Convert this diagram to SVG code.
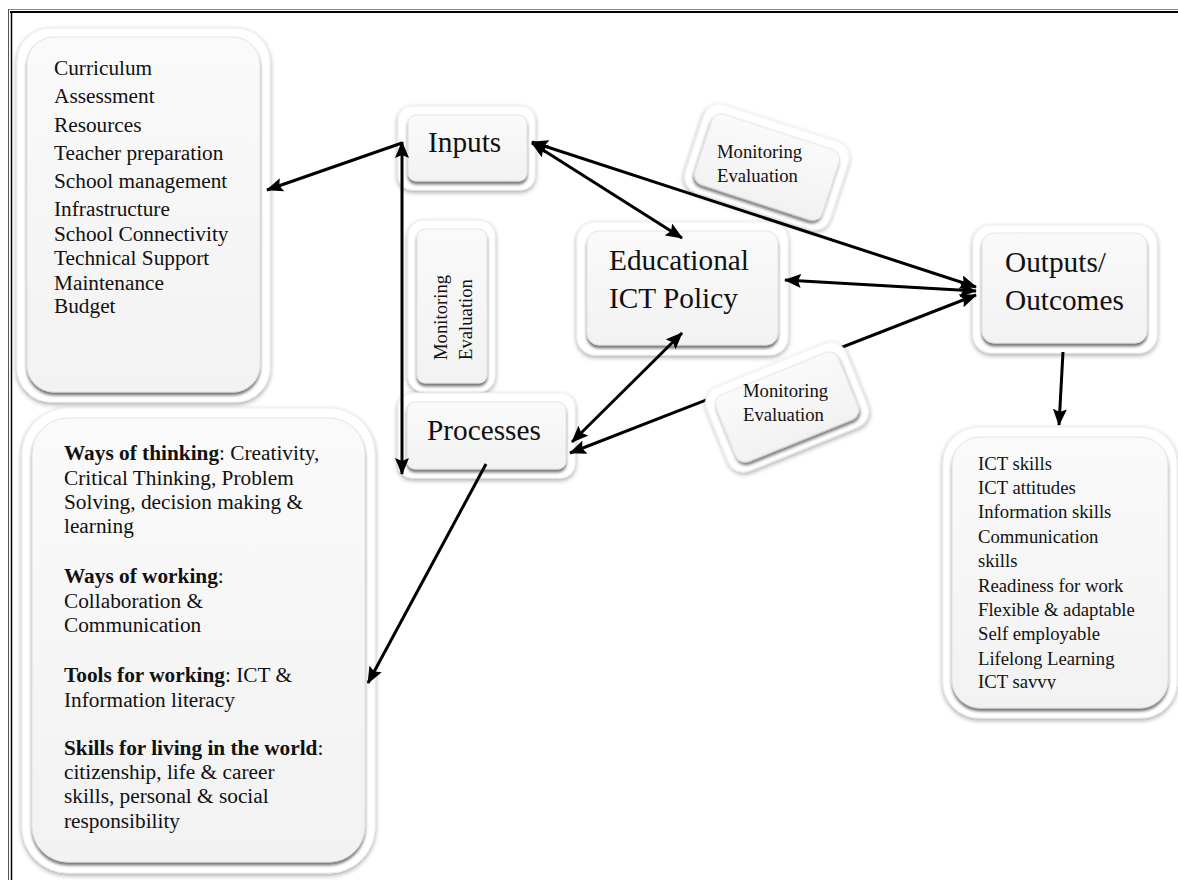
<svg xmlns="http://www.w3.org/2000/svg" width="1178" height="880" viewBox="0 0 1178 880">
<style>
  text { font-family: "Liberation Serif", "Times New Roman", serif; fill: #111; }
  .big { font-size: 29.3px; }
  .mid { font-size: 21.3px; }
  .sm { font-size: 18.7px; }
  .b { font-weight: bold; }
  .outer { fill: #ffffff; stroke: #eeeeee; stroke-width: 1; filter: url(#sh); }
  .inner { fill: url(#ig); stroke: #dddddd; stroke-width: 0.8; filter: url(#ish); }
  .con { stroke: #000; stroke-width: 3; fill: none; }
</style>
<defs>
  <linearGradient id="ig" x1="0" y1="0" x2="0" y2="1">
    <stop offset="0" stop-color="#fafafa"/>
    <stop offset="1" stop-color="#f2f2f2"/>
  </linearGradient>
  <filter id="sh" x="-15%" y="-15%" width="130%" height="135%">
    <feGaussianBlur in="SourceAlpha" stdDeviation="2.5"/>
    <feOffset dx="0" dy="2"/>
    <feComponentTransfer><feFuncA type="linear" slope="0.35"/></feComponentTransfer>
    <feMerge><feMergeNode/><feMergeNode in="SourceGraphic"/></feMerge>
  </filter>
  <filter id="ish" x="-15%" y="-15%" width="130%" height="135%">
    <feGaussianBlur in="SourceAlpha" stdDeviation="1.5"/>
    <feOffset dx="0" dy="3"/>
    <feComponentTransfer><feFuncA type="linear" slope="0.55"/></feComponentTransfer>
    <feMerge><feMergeNode/><feMergeNode in="SourceGraphic"/></feMerge>
  </filter>
  <marker id="ah" markerUnits="userSpaceOnUse" markerWidth="18" markerHeight="14" refX="16" refY="7" orient="auto-start-reverse">
    <path d="M0,0 L17,7 L0,14 L3,7 z" fill="#000"/>
  </marker>
  <clipPath id="savvyClip"><rect x="940" y="670" width="240" height="19.5"/></clipPath>
</defs>

<rect x="0" y="0" width="1178" height="880" fill="#ffffff"/>

<!-- page border -->
<g id="border">
  <line x1="8" y1="9.5" x2="1178" y2="9.5" stroke="#888" stroke-width="1"/>
  <line x1="10" y1="12" x2="1178" y2="12" stroke="#000" stroke-width="2"/>
  <line x1="8.5" y1="9" x2="8.5" y2="880" stroke="#555" stroke-width="1"/>
  <line x1="11.5" y1="12" x2="11.5" y2="880" stroke="#000" stroke-width="1.5"/>
</g>

<!-- Inputs list -->
<g id="inputs-list">
  <rect class="outer" x="17" y="28" width="253" height="374" rx="34"/>
  <rect class="inner" x="27" y="37" width="233" height="355" rx="27"/>
  <text class="mid" x="54" y="75">Curriculum</text>
  <text class="mid" x="54" y="103">Assessment</text>
  <text class="mid" x="54" y="132">Resources</text>
  <text class="mid" x="54" y="160">Teacher preparation</text>
  <text class="mid" x="54" y="188">School management</text>
  <text class="mid" x="54" y="216">Infrastructure</text>
  <text class="mid" x="54" y="241">School Connectivity</text>
  <text class="mid" x="54" y="265">Technical Support</text>
  <text class="mid" x="54" y="290">Maintenance</text>
  <text class="mid" x="54" y="313">Budget</text>
</g>

<!-- Processes list -->
<g id="processes-list">
  <rect class="outer" x="22" y="408" width="353" height="465" rx="46"/>
  <rect class="inner" x="32" y="418" width="333" height="444" rx="36"/>
  <text class="mid" x="64" y="460"><tspan class="b">Ways of thinking</tspan>: Creativity,</text>
  <text class="mid" x="64" y="485">Critical Thinking, Problem</text>
  <text class="mid" x="64" y="509">Solving, decision making &amp;</text>
  <text class="mid" x="64" y="533">learning</text>
  <text class="mid" x="64" y="583"><tspan class="b">Ways of working</tspan>:</text>
  <text class="mid" x="64" y="608">Collaboration &amp;</text>
  <text class="mid" x="64" y="632">Communication</text>
  <text class="mid" x="64" y="682"><tspan class="b">Tools for working</tspan>: ICT &amp;</text>
  <text class="mid" x="64" y="707">Information literacy</text>
  <text class="mid" x="64" y="755"><tspan class="b">Skills for living in the world</tspan>:</text>
  <text class="mid" x="64" y="779">citizenship, life &amp; career</text>
  <text class="mid" x="64" y="803">skills, personal &amp; social</text>
  <text class="mid" x="64" y="828">responsibility</text>
</g>

<!-- Inputs -->
<g id="inputs">
  <rect class="outer" x="398" y="106" width="137" height="84" rx="14"/>
  <rect class="inner" x="408" y="115" width="119" height="66" rx="8"/>
  <text class="big" x="428" y="152">Inputs</text>
</g>

<!-- Monitoring vertical -->
<g id="monitoring-left">
  <rect class="outer" x="408" y="220" width="87" height="172" rx="16"/>
  <rect class="inner" x="417" y="229" width="70" height="154" rx="8"/>
  <text class="sm" transform="translate(447,360) rotate(-90)">Monitoring</text>
  <text class="sm" transform="translate(472,360) rotate(-90)">Evaluation</text>
</g>

<!-- Educational ICT Policy -->
<g id="policy">
  <rect class="outer" x="577" y="222" width="211" height="133" rx="18"/>
  <rect class="inner" x="587" y="231" width="191" height="114" rx="12"/>
  <text class="big" x="609" y="270">Educational</text>
  <text class="big" x="609" y="308">ICT Policy</text>
</g>

<!-- Processes -->
<g id="processes">
  <rect class="outer" x="398" y="393" width="177" height="85" rx="14"/>
  <rect class="inner" x="407" y="402" width="159" height="67" rx="8"/>
  <text class="big" x="427" y="440">Processes</text>
</g>

<!-- Outputs -->
<g id="outputs">
  <rect class="outer" x="973" y="225" width="184" height="128" rx="18"/>
  <rect class="inner" x="982" y="233" width="165" height="110" rx="12"/>
  <text class="big" x="1005" y="272">Outputs/</text>
  <text class="big" x="1005" y="310">Outcomes</text>
</g>

<!-- Outputs list -->
<g id="outputs-list">
  <rect class="outer" x="943" y="427" width="234" height="291" rx="36"/>
  <rect class="inner" x="952" y="437" width="216" height="271" rx="28"/>
  <text class="sm" x="978" y="470">ICT skills</text>
  <text class="sm" x="978" y="494">ICT attitudes</text>
  <text class="sm" x="978" y="518">Information skills</text>
  <text class="sm" x="978" y="543">Communication</text>
  <text class="sm" x="978" y="567">skills</text>
  <text class="sm" x="978" y="592">Readiness for work</text>
  <text class="sm" x="978" y="616">Flexible &amp; adaptable</text>
  <text class="sm" x="978" y="640">Self employable</text>
  <text class="sm" x="978" y="665">Lifelong Learning</text>
  <text class="sm" x="978" y="688" clip-path="url(#savvyClip)">ICT savvy</text>
</g>

<!-- connectors -->
<g id="connectors">
  <line class="con" x1="402" y1="143" x2="267" y2="190" marker-end="url(#ah)"/>
  <line class="con" x1="402" y1="142" x2="402" y2="474" marker-start="url(#ah)" marker-end="url(#ah)"/>
  <line class="con" x1="532" y1="143" x2="682" y2="238" marker-start="url(#ah)" marker-end="url(#ah)"/>
  <line class="con" x1="532" y1="142" x2="976" y2="287" marker-start="url(#ah)" marker-end="url(#ah)"/>
  <line class="con" x1="785" y1="280" x2="976" y2="291" marker-start="url(#ah)" marker-end="url(#ah)"/>
  <line class="con" x1="570" y1="453" x2="976" y2="295" marker-start="url(#ah)" marker-end="url(#ah)"/>
  <line class="con" x1="682" y1="333" x2="572" y2="442" marker-start="url(#ah)" marker-end="url(#ah)"/>
  <line class="con" x1="486" y1="464" x2="368" y2="683" marker-end="url(#ah)"/>
  <line class="con" x1="1063" y1="352" x2="1059" y2="425" marker-end="url(#ah)"/>
</g>

<!-- Monitoring top-right (rotated) -->
<g id="monitoring-top">
  <g transform="translate(767,167) rotate(18)">
    <rect class="outer" x="-76" y="-46" width="152" height="92" rx="16"/>
    <rect class="inner" x="-67" y="-37" width="134" height="74" rx="10"/>
  </g>
  <text class="sm" x="717" y="158">Monitoring</text>
  <text class="sm" x="717" y="182">Evaluation</text>
</g>

<!-- Monitoring bottom (rotated) -->
<g id="monitoring-bottom">
  <g transform="translate(787,407) rotate(-22)">
    <rect class="outer" x="-75" y="-45" width="150" height="90" rx="16"/>
    <rect class="inner" x="-66" y="-36" width="132" height="72" rx="10"/>
  </g>
  <text class="sm" x="743" y="397">Monitoring</text>
  <text class="sm" x="743" y="421">Evaluation</text>
</g>
</svg>
